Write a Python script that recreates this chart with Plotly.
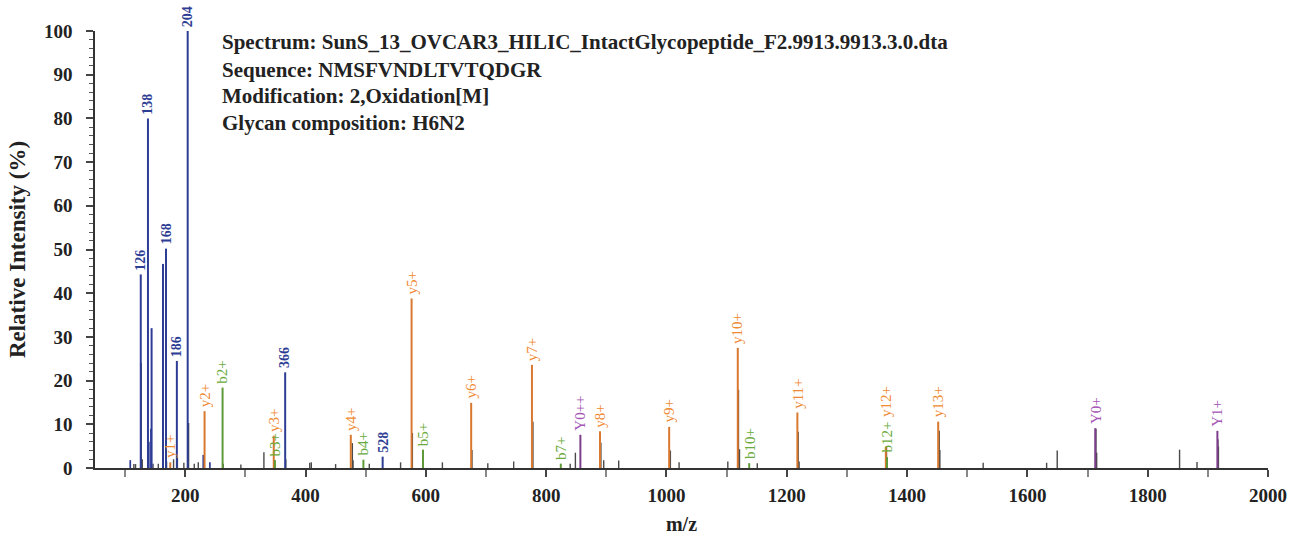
import plotly.graph_objects as go

# ---------------- data ----------------
oxonium_mz = [126.05, 138.05, 144.07, 163.06, 168.07, 186.08, 204.09, 366.14, 528.19]
oxonium_int = [44.3, 80.0, 32.0, 46.7, 50.2, 24.5, 100.0, 21.9, 2.6]
oxonium_labels = ["126", "138", "", "", "168", "186", "204", "366", "528"]

oxonium_small_mz = [108.6, 139.5, 143.0, 230.0, 241.0]
oxonium_small_int = [1.8, 6.0, 9.0, 3.0, 1.3]

y_ion_mz = [175.12, 232.14, 347.17, 475.23, 576.28, 675.35, 776.39, 889.48, 1004.51, 1118.56, 1217.62, 1364.69, 1451.72]
y_ion_int = [1.3, 13.0, 7.4, 7.6, 38.8, 14.9, 23.6, 8.4, 9.4, 27.5, 12.7, 4.9, 10.6]
y_ion_labels = ["y1+", "y2+", "y3+", "y4+", "y5+", "y6+", "y7+", "y8+", "y9+", "y10+", "y11+", "y12+", "y13+"]

b_ion_mz = [262.09, 349.12, 496.19, 595.26, 824.33, 1137.53, 1366.64]
b_ion_int = [18.4, 1.8, 1.9, 4.2, 1.0, 1.1, 2.5]
b_ion_labels = ["b2+", "b3+", "b4+", "b5+", "b7+", "b10+", "b12+"]

glyco_mz = [856.90, 1712.79, 1915.87]
glyco_int = [7.6, 9.1, 8.5]
glyco_labels = ["Y0++", "Y0+", "Y1+"]

other_mz = [114.6, 117.4, 126.9, 128.6, 146.5, 155.2, 169.0, 180.6, 187.0, 197.7, 205.6, 215.0,
            221.7, 263.0, 292.5, 330.8, 348.0, 367.2, 407.0, 409.6, 450.0, 477.8, 479.0, 506.0,
            558.0, 577.6, 627.5, 676.7, 703.0, 746.0, 778.0, 840.0, 848.6, 891.0, 895.7, 920.6,
            1006.5, 1021.0, 1102.0, 1119.7, 1121.4, 1151.0, 1219.0, 1220.5, 1365.8, 1453.4, 1454.5,
            1526.5, 1632.0, 1649.6, 1714.0, 1715.2, 1853.0, 1882.0, 1916.8, 1917.6]
other_int = [0.9, 0.9, 24.0, 2.0, 1.0, 1.0, 1.5, 2.0, 2.5, 1.2, 10.3, 1.0,
             1.3, 1.0, 0.8, 3.6, 1.8, 2.0, 1.2, 1.3, 0.9, 5.7, 1.8, 1.0,
             1.3, 8.0, 1.3, 4.1, 1.1, 1.5, 10.6, 1.0, 3.5, 5.8, 1.8, 1.7,
             4.0, 1.3, 1.5, 17.9, 4.3, 1.1, 8.3, 1.5, 4.8, 8.5, 4.1,
             1.2, 1.2, 4.0, 9.0, 3.5, 4.2, 1.4, 6.6, 4.9]

info_lines = [
    "Spectrum: SunS_13_OVCAR3_HILIC_IntactGlycopeptide_F2.9913.9913.3.0.dta",
    "Sequence: NMSFVNDLTVTQDGR",
    "Modification: 2,Oxidation[M]",
    "Glycan composition: H6N2",
]

x_title = "m/z"
y_title = "Relative Intensity (%)"

# ---------------- styling ----------------
BLUE = "#2e3d94"
ORANGE = "#d9782f"
ORANGE_TXT = "#ef8a33"
GREEN = "#5f9a3a"
GREEN_TXT = "#6aaa3c"
PURPLE = "#7d3f8c"
PURPLE_TXT = "#a455b5"
GREY = "#4a4a4a"
FONT = "Liberation Serif"
TXT = "#222222"

# extra label lift (pixels) to avoid overlapping labels
label_lift = {"y12+": 26}


def sticks(mz, inten):
    xs, ys = [], []
    for m, h in zip(mz, inten):
        xs += [m, m, None]
        ys += [0, h, None]
    return xs, ys


fig = go.Figure()

for mz, it, col, w in [
    (other_mz, other_int, GREY, 1.4),
    (oxonium_small_mz, oxonium_small_int, BLUE, 1.7),
    (oxonium_mz, oxonium_int, BLUE, 2.0),
    (y_ion_mz, y_ion_int, ORANGE, 2.0),
    (b_ion_mz, b_ion_int, GREEN, 2.0),
    (glyco_mz, glyco_int, PURPLE, 2.0),
]:
    xs, ys = sticks(mz, it)
    fig.add_trace(go.Scatter(x=xs, y=ys, mode="lines", line=dict(color=col, width=w),
                             hoverinfo="skip", showlegend=False))

annotations = []


def add_labels(mz, inten, labels, color, bold=False, size=15):
    for m, h, lab in zip(mz, inten, labels):
        if not lab:
            continue
        txt = f"<b>{lab}</b>" if bold else lab
        annotations.append(dict(x=m, y=h, xref="x", yref="y", text=txt, showarrow=False,
                                textangle=-90, xanchor="center", yanchor="bottom",
                                yshift=2 + label_lift.get(lab, 0),
                                font=dict(family=FONT, size=size, color=color)))


add_labels(oxonium_mz, oxonium_int, oxonium_labels, BLUE, bold=True, size=14)
add_labels(y_ion_mz, y_ion_int, y_ion_labels, ORANGE_TXT, size=15)
add_labels(b_ion_mz, b_ion_int, b_ion_labels, GREEN_TXT, size=15)
add_labels(glyco_mz, glyco_int, glyco_labels, PURPLE_TXT, size=15)

info_y_px = [42, 70, 96, 123]
for line, ypx in zip(info_lines, info_y_px):
    annotations.append(dict(x=(220 - 95) / 1173, y=(468 - ypx) / 437, xref="paper", yref="paper",
                            text=f"<b>{line}</b>", showarrow=False, xanchor="left", yanchor="middle",
                            font=dict(family=FONT, size=21, color=TXT)))

fig.update_layout(
    width=1302, height=539,
    margin=dict(l=95, r=34, t=31, b=71),
    paper_bgcolor="white", plot_bgcolor="white",
    font=dict(family=FONT, color=TXT),
    annotations=annotations,
    showlegend=False,
)

fig.update_xaxes(
    range=[50, 2000], tickvals=list(range(200, 2001, 200)),
    ticks="outside", ticklen=7, tickwidth=1.5, tickcolor="#444",
    minor=dict(tickvals=list(range(100, 2001, 200)), ticks="outside", ticklen=7, tickwidth=1.5, tickcolor="#888"),
    showline=True, linecolor="#333", linewidth=1.5, showgrid=False, zeroline=False,
    tickfont=dict(family=FONT, size=19, color=TXT, weight="bold"),
    ticklabelstandoff=2, automargin=False,
    title=dict(text=f"<b>{x_title}</b>", font=dict(family=FONT, size=20, color=TXT), standoff=12),
)
fig.update_yaxes(
    range=[0, 100], tickvals=list(range(0, 101, 10)),
    ticks="outside", ticklen=7, tickwidth=1.5, tickcolor="#444",
    minor=dict(dtick=2, ticks="outside", ticklen=4, tickwidth=1, tickcolor="#555"),
    showline=True, linecolor="#333", linewidth=1.5, showgrid=False, zeroline=False,
    tickfont=dict(family=FONT, size=19, color=TXT, weight="bold"),
    ticklabelstandoff=10, automargin=False,
    title=dict(text=f"<b>{y_title}</b>", font=dict(family=FONT, size=23, color=TXT), standoff=12),
)

fig.write_html("out.html", config={"displayModeBar": False},
               post_script="document.body.style.margin='0';")
